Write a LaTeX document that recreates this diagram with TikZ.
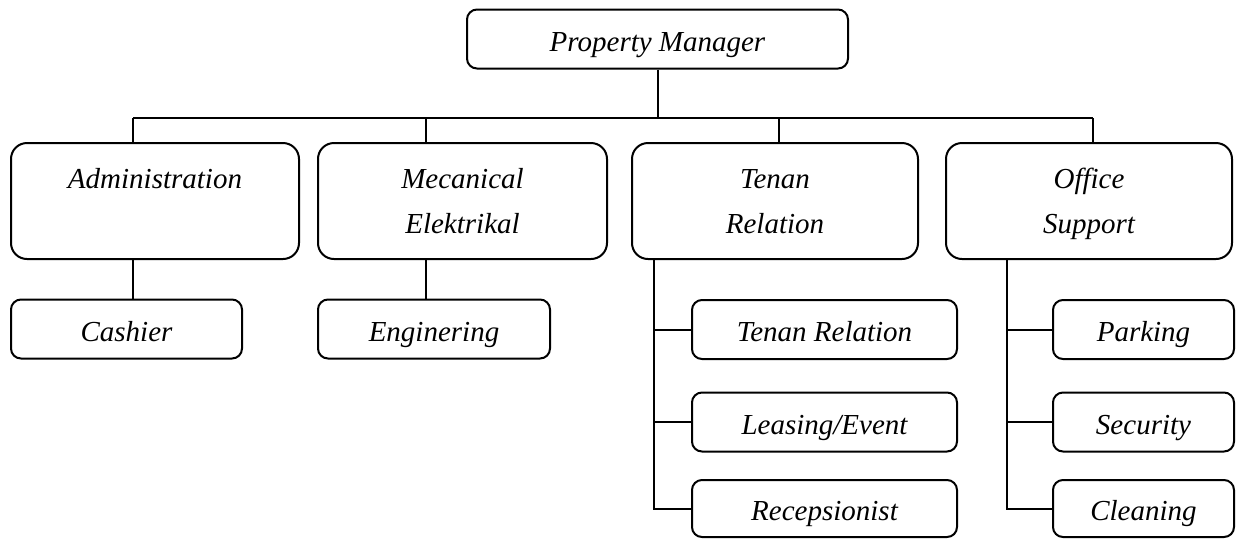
\documentclass[tikz,border=0pt]{standalone}
\usepackage{fontspec}
\setmainfont{Liberation Serif}
\usetikzlibrary{positioning}

\begin{document}
\begin{tikzpicture}[x=0.5pt, y=-0.5pt,
        frame/.style={draw, line width=1pt, inner sep=0pt, align=center,
                      font=\fontsize{14.5}{22.5}\selectfont\itshape},
        box/.style={frame, rounded corners=5pt, minimum height=29.5pt,
                    text height=13.4pt, text depth=1.1pt},
        unit/.style={frame, rounded corners=8pt, minimum height=58pt,
                     text height=39.5pt, text depth=6.75pt},
        link/.style={line width=1pt}
      ]
        \useasboundingbox (0,0) rectangle (1239,538);
        % top
        \node[box, minimum width=190.5pt] (pm) at (657.5,39) {Property Manager};
        % departments
        \node[unit, minimum width=144pt]   (adm) at (155,201)   {Administration\\};
        \node[unit, minimum width=144.5pt] (mek) at (462.5,201) {Mecanical\\Elektrikal};
        \node[unit, minimum width=143pt]   (ten) at (775,201)   {Tenan\\Relation};
        \node[unit, minimum width=143pt]   (off) at (1089,201)  {Office\\Support};
        % sections
        \node[box, minimum width=115.5pt] (cash)  at (126.5,329)   {Cashier};
        \node[box, minimum width=116pt]   (eng)   at (434,329)     {Enginering};
        \node[box, minimum width=132.5pt] (trel)  at (824.5,329.5) {Tenan Relation};
        \node[box, minimum width=132.5pt] (lease) at (824.5,422)   {Leasing/Event};
        \node[box, minimum width=132.5pt, minimum height=28.5pt] (recep) at (824.5,508.5) {Recepsionist};
        \node[box, minimum width=90.5pt]  (park)  at (1143.5,329.5) {Parking};
        \node[box, minimum width=90.5pt]  (sec)   at (1143.5,422)   {Security};
        \node[box, minimum width=90.5pt, minimum height=28.5pt] (clean) at (1143.5,508.5) {Cleaning};
        % bus
        \coordinate (busL) at (133,118);
        \coordinate (jm)   at (426,118);
        \coordinate (jt)   at (779,118);
        \coordinate (busR) at (1093,118);
        \coordinate (st)   at (654,0);
        \coordinate (so)   at (1007,0);
        \draw[link] (pm.south) -- (pm.south |- busL);
        \draw[link] (busL) -- (busR);
        \draw[link] (busL) -- (busL |- adm.north);
        \draw[link] (jm) -- (jm |- mek.north);
        \draw[link] (jt) -- (jt |- ten.north);
        \draw[link] (busR) -- (busR |- off.north);
        % children
        \draw[link] (busL |- adm.south) -- (busL |- cash.north);
        \draw[link] (jm |- mek.south) -- (jm |- eng.north);
        \draw[link] (st |- ten.south) |- (recep);
        \draw[link] (trel.west) -- (trel.west -| st);
        \draw[link] (lease.west) -- (lease.west -| st);
        \draw[link] (so |- off.south) |- (clean);
        \draw[link] (park.west) -- (park.west -| so);
        \draw[link] (sec.west) -- (sec.west -| so);
      \end{tikzpicture}
\end{document}
